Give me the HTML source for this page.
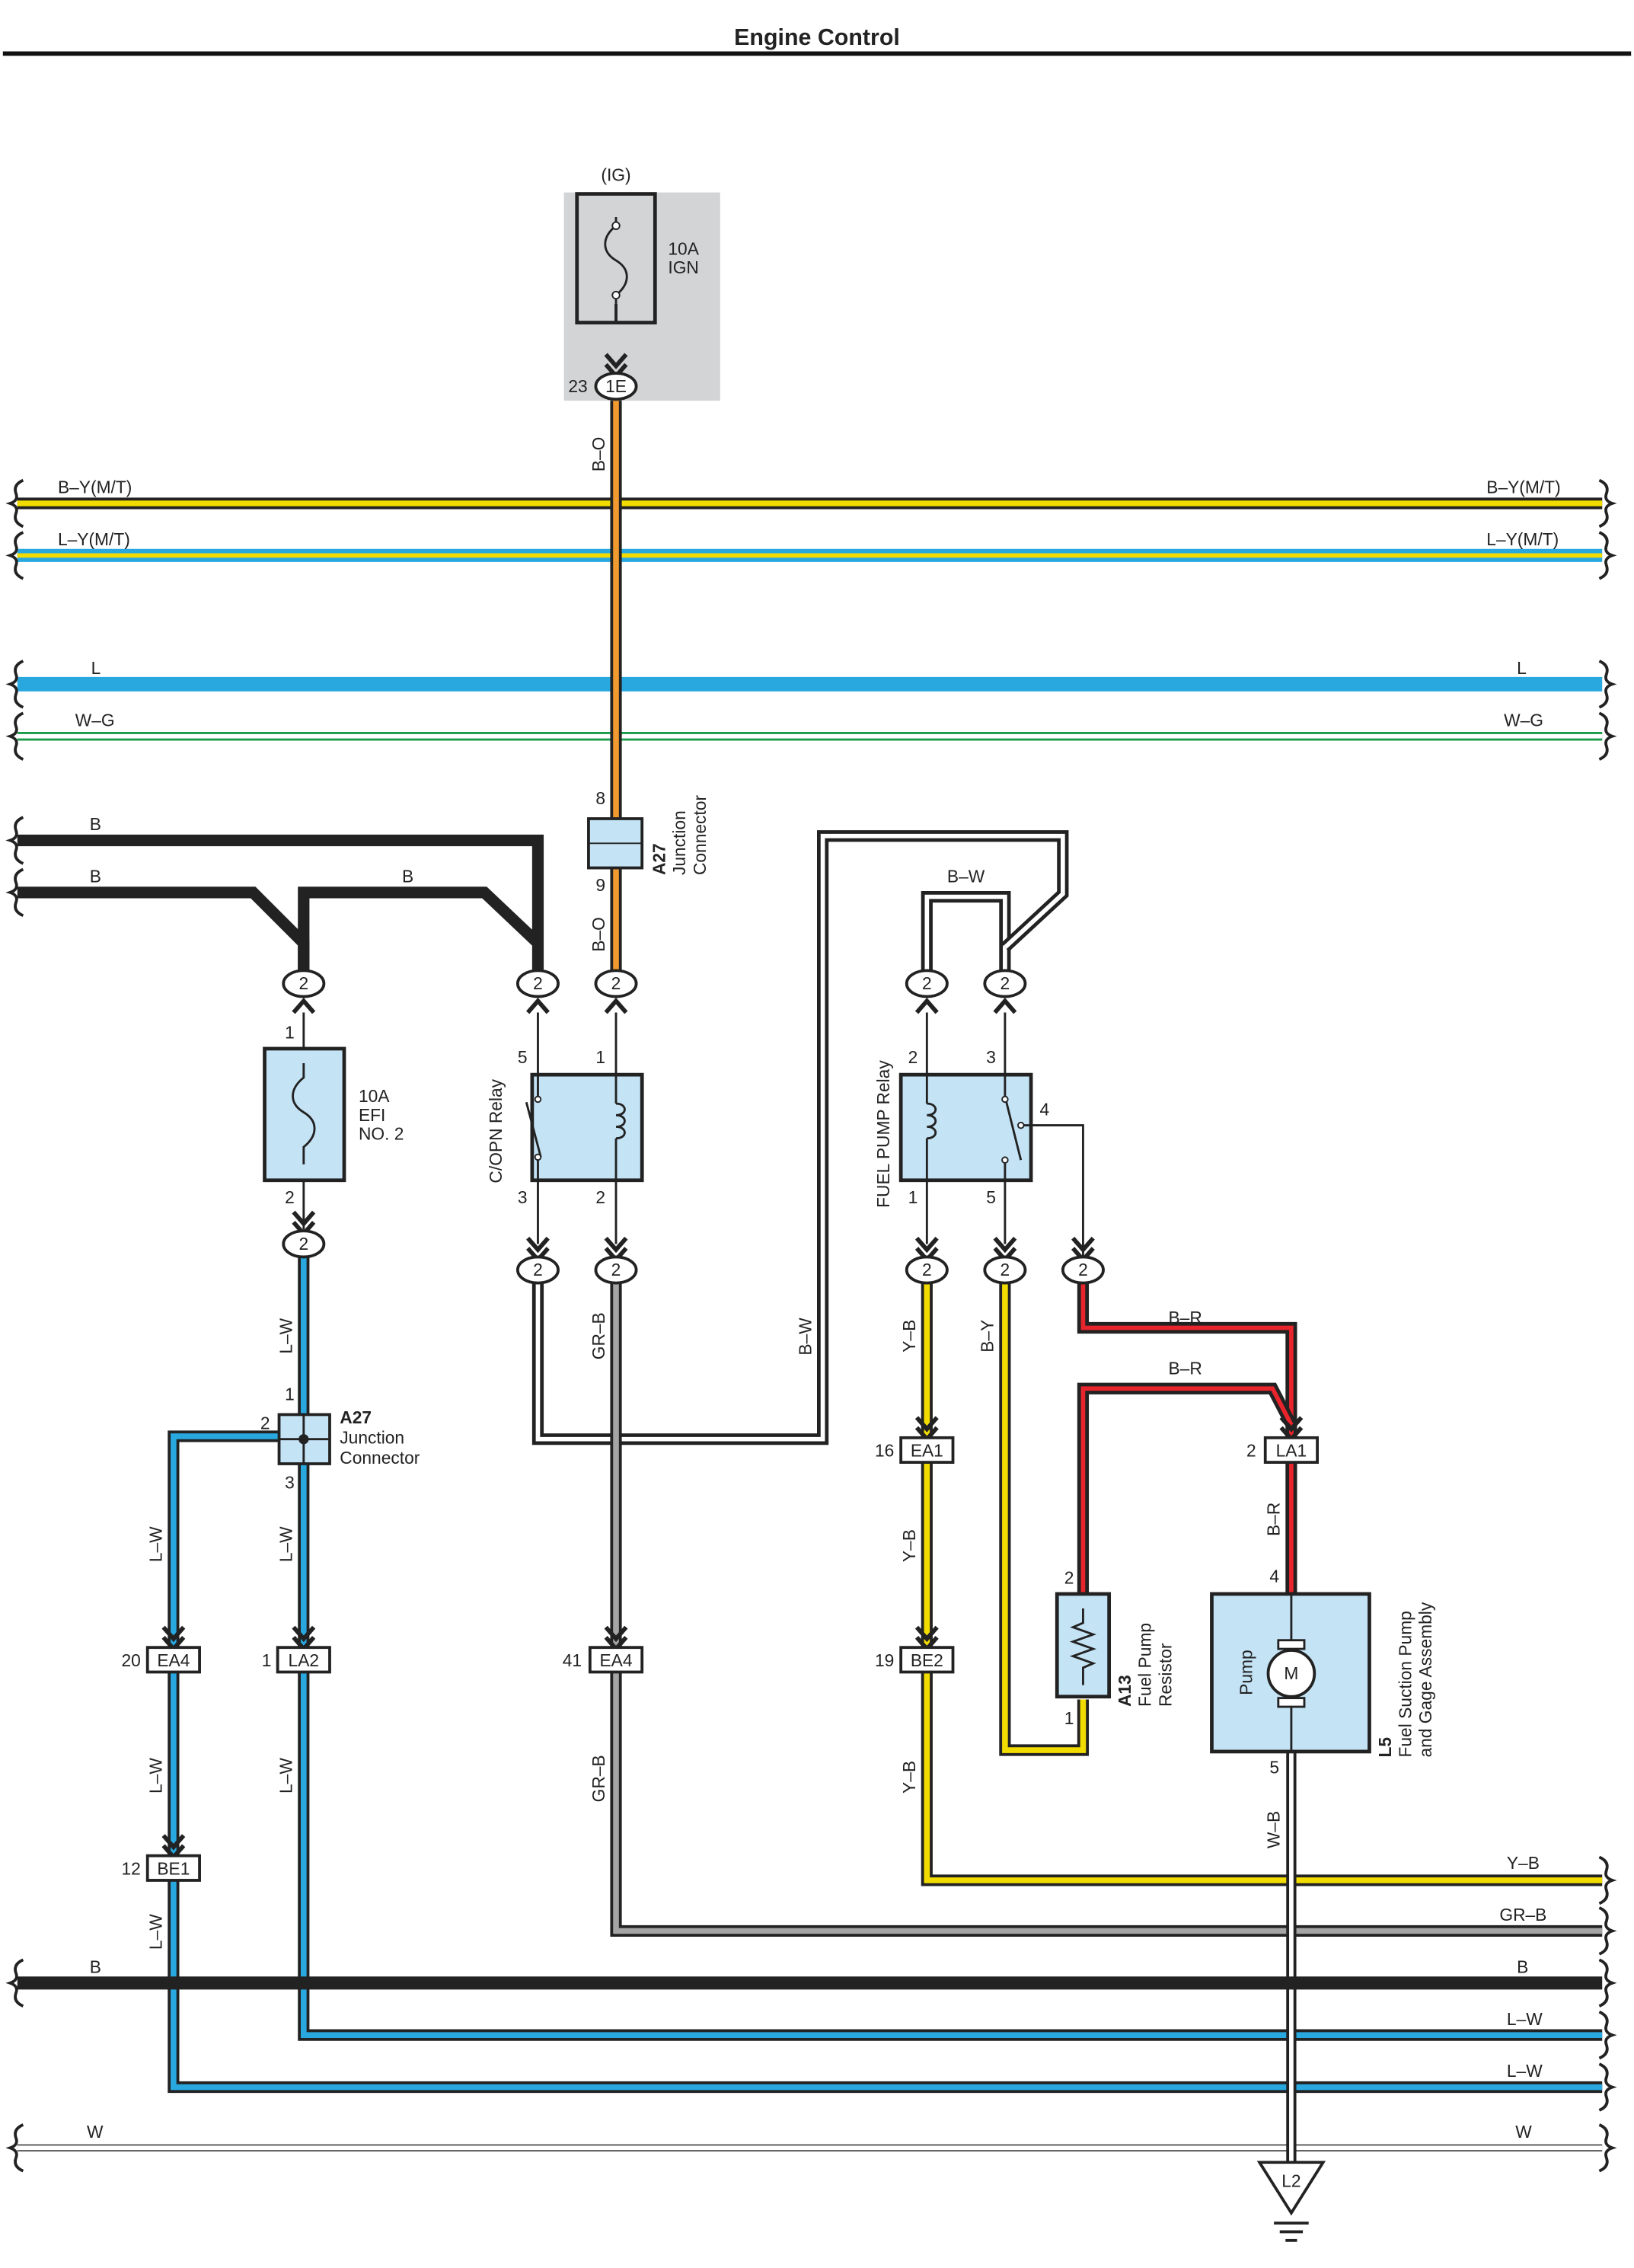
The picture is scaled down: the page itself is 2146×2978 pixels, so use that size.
<!DOCTYPE html>
<html><head><meta charset="utf-8"><style>
html,body{margin:0;padding:0;background:#fff}
svg{display:block}
text{font-family:"Liberation Sans",Arial,sans-serif;font-size:12px;fill:#222}
</style></head><body>
<svg width="2146" height="2978" viewBox="0 0 1130 1568" xmlns="http://www.w3.org/2000/svg">
<defs>
<g id="bl"><path d="M0,-16 q-7,3 -5,9 q2,5 -4,7 q6,2 4,7 q-2,6 5,9" fill="none" stroke="#222" stroke-width="2"/></g>
<g id="br"><path d="M0,-16 q7,3 5,9 q-2,5 4,7 q-6,2 -4,7 q2,6 -5,9" fill="none" stroke="#222" stroke-width="2"/></g>
<g id="dn"><polyline points="-7,-22 0,-14 7,-22" fill="none" stroke="#222" stroke-width="3"/><polyline points="-7,-15 0,-7 7,-15" fill="none" stroke="#222" stroke-width="3"/></g>
<g id="up"><polyline points="-7,20 0,12 7,20" fill="none" stroke="#222" stroke-width="3"/></g>
</defs>
<text x="565" y="31" text-anchor="middle" style="font-size:16px;font-weight:bold">Engine Control</text>
<line x1="2" y1="37" x2="1128" y2="37" stroke="#111" stroke-width="3"/>

<rect x="390" y="133" width="108" height="144" fill="#d3d4d6"/>
<rect x="399" y="134" width="54" height="89" fill="none" stroke="#222" stroke-width="2.5"/>
<path d="M426,150 v6 c-10,8 -10,18 0,24 c10,6 10,16 0,24 v6" fill="none" stroke="#222" stroke-width="1.5"/>
<circle cx="426" cy="156" r="2.5" fill="#fff" stroke="#222"/><circle cx="426" cy="204" r="2.5" fill="#fff" stroke="#222"/>
<line x1="426" y1="210" x2="426" y2="223" stroke="#222" stroke-width="2"/>
<text x="426" y="125" text-anchor="middle">(IG)</text>
<text x="462" y="176">10A</text><text x="462" y="189">IGN</text>
<text x="393" y="271">23</text>

<g fill="none">
<line x1="12" y1="348" x2="1108" y2="348" stroke="#222" stroke-width="8"/><line x1="12" y1="348" x2="1108" y2="348" stroke="#f2dc00" stroke-width="4"/>
<line x1="12" y1="384" x2="1108" y2="384" stroke="#29a8e0" stroke-width="9"/><line x1="12" y1="384" x2="1108" y2="384" stroke="#f2dc00" stroke-width="3"/>
<line x1="12" y1="473" x2="1108" y2="473" stroke="#29a8e0" stroke-width="10"/>
<line x1="12" y1="509" x2="1108" y2="509" stroke="#1a9a4a" stroke-width="6"/><line x1="12" y1="509" x2="1108" y2="509" stroke="#fff" stroke-width="3"/>
<line x1="12" y1="1485" x2="1108" y2="1485" stroke="#555" stroke-width="5"/><line x1="12" y1="1485" x2="1108" y2="1485" stroke="#fff" stroke-width="3"/>
</g>
<g>
<use href="#bl" x="16" y="348"/><use href="#br" x="1106" y="348"/>
<use href="#bl" x="16" y="384"/><use href="#br" x="1106" y="384"/>
<use href="#bl" x="16" y="473"/><use href="#br" x="1106" y="473"/>
<use href="#bl" x="16" y="509"/><use href="#br" x="1106" y="509"/>
<use href="#bl" x="16" y="581"/><use href="#bl" x="16" y="617"/>
<use href="#br" x="1106" y="1300"/><use href="#br" x="1106" y="1335"/><use href="#br" x="1106" y="1371"/>
<use href="#br" x="1106" y="1407"/><use href="#br" x="1106" y="1443"/>
<use href="#bl" x="16" y="1371"/><use href="#bl" x="16" y="1485"/><use href="#br" x="1106" y="1485"/>
</g>
<text x="40" y="341">B–Y(M/T)</text><text x="1028" y="341">B–Y(M/T)</text>
<text x="40" y="377">L–Y(M/T)</text><text x="1028" y="377">L–Y(M/T)</text>
<text x="63" y="466">L</text><text x="1049" y="466">L</text>
<text x="52" y="502">W–G</text><text x="1040" y="502">W–G</text>
<text x="62" y="574">B</text><text x="62" y="610">B</text><text x="278" y="610">B</text>

<line x1="426" y1="277" x2="426" y2="680" stroke="#222" stroke-width="8"/>
<line x1="426" y1="277" x2="426" y2="680" stroke="#f09a30" stroke-width="4"/>

<g fill="none" stroke="#222" stroke-width="8" stroke-linejoin="miter">
<polyline points="12,581 372,581 372,672"/>
<polyline points="12,617 175,617 210,652 210,672"/>
<polyline points="210,672 210,617 335,617 372,652"/>
</g>

<g fill="none" stroke-linejoin="miter">
<polyline points="641,672 641,620 695,620 695,672" stroke="#222" stroke-width="8"/>
<polyline points="641,672 641,620 695,620 695,672" stroke="#fff" stroke-width="3"/>
<polyline points="695,655 735,618 735,578 569,578 569,995 372,995 372,878" stroke="#222" stroke-width="8"/>
<polyline points="695,655 735,618 735,578 569,578 569,995 372,995 372,878" stroke="#fff" stroke-width="3"/>
</g>
<polyline points="426,878 426,1335 1108,1335" fill="none" stroke="#222" stroke-width="8"/>
<polyline points="426,878 426,1335 1108,1335" fill="none" stroke="#a5a5a5" stroke-width="4"/>
<g fill="none">
<polyline points="210,860 210,1407 1108,1407" stroke="#222" stroke-width="8"/>
<polyline points="210,860 210,1407 1108,1407" stroke="#29a8e0" stroke-width="4"/>
<polyline points="193,993 120,993 120,1443 1108,1443" stroke="#222" stroke-width="8"/>
<polyline points="193,993 120,993 120,1443 1108,1443" stroke="#29a8e0" stroke-width="4"/>
<polyline points="641,878 641,1300 1108,1300" stroke="#222" stroke-width="8"/>
<polyline points="641,878 641,1300 1108,1300" stroke="#f2dc00" stroke-width="4"/>
<polyline points="695,878 695,1210 749,1210 749,1175" stroke="#222" stroke-width="8"/>
<polyline points="695,878 695,1210 749,1210 749,1175" stroke="#f2dc00" stroke-width="4"/>
<polyline points="749,878 749,918 893,918 893,1102" stroke="#222" stroke-width="8"/>
<polyline points="749,878 749,918 893,918 893,1102" stroke="#e8242c" stroke-width="3"/>
<polyline points="749,1102 749,960 880,960 893,985" stroke="#222" stroke-width="8"/>
<polyline points="749,1102 749,960 880,960 893,985" stroke="#e8242c" stroke-width="3"/>
<line x1="893" y1="1211" x2="893" y2="1495" stroke="#222" stroke-width="7"/>
<line x1="893" y1="1211" x2="893" y2="1495" stroke="#fff" stroke-width="3"/>
<polyline points="713,778 749,778 749,870" stroke="#222" stroke-width="1.5"/>
</g>
<line x1="12" y1="1371" x2="1108" y2="1371" stroke="#222" stroke-width="9"/>

<rect x="407" y="566" width="37" height="34" fill="#c4e3f5" stroke="#222" stroke-width="2"/>
<line x1="407" y1="583" x2="444" y2="583" stroke="#222" stroke-width="1"/>
<text x="412" y="556">8</text><text x="412" y="616">9</text>
<text transform="translate(460,605) rotate(-90)" style="font-weight:bold">A27</text>
<text transform="translate(474,605) rotate(-90)">Junction</text>
<text transform="translate(488,605) rotate(-90)">Connector</text>

<rect x="183" y="725" width="55" height="91" fill="#c4e3f5" stroke="#222" stroke-width="2.5"/>
<line x1="210" y1="700" x2="210" y2="725" stroke="#222" stroke-width="1.5"/><line x1="210" y1="816" x2="210" y2="850" stroke="#222" stroke-width="1.5"/>
<path d="M210,735 v10 c-10,8 -10,18 0,24 c10,6 10,16 0,24 v12" fill="none" stroke="#222" stroke-width="1.5"/>
<text x="248" y="762">10A</text><text x="248" y="775">EFI</text><text x="248" y="788">NO. 2</text>
<text x="197" y="718">1</text><text x="197" y="832">2</text>

<g stroke="#222" stroke-width="1.5" fill="none">
<line x1="372" y1="700" x2="372" y2="743"/><line x1="426" y1="700" x2="426" y2="743"/>
<line x1="372" y1="816" x2="372" y2="860"/><line x1="426" y1="816" x2="426" y2="860"/>
<line x1="641" y1="700" x2="641" y2="743"/><line x1="695" y1="700" x2="695" y2="743"/>
<line x1="641" y1="816" x2="641" y2="860"/><line x1="695" y1="816" x2="695" y2="860"/>
</g>
<rect x="368" y="743" width="76" height="73" fill="#c4e3f5" stroke="#222" stroke-width="2.5"/>
<g stroke="#222" stroke-width="1.5" fill="none">
<line x1="372" y1="743" x2="372" y2="760"/><line x1="364" y1="762" x2="374" y2="800"/><line x1="372" y1="800" x2="372" y2="816"/>
<line x1="426" y1="743" x2="426" y2="763"/><path d="M426,763 c8,0 8,8 0,8 c8,0 8,8 0,8 c8,0 8,8 0,8"/><line x1="426" y1="787" x2="426" y2="816"/>
</g>
<circle cx="372" cy="760" r="2" fill="#fff" stroke="#222"/><circle cx="372" cy="800" r="2" fill="#fff" stroke="#222"/>
<text x="358" y="735">5</text><text x="412" y="735">1</text><text x="358" y="832">3</text><text x="412" y="832">2</text>
<text transform="translate(347,818) rotate(-90)">C/OPN Relay</text>

<rect x="623" y="743" width="90" height="73" fill="#c4e3f5" stroke="#222" stroke-width="2.5"/>
<g stroke="#222" stroke-width="1.5" fill="none">
<line x1="641" y1="743" x2="641" y2="763"/><path d="M641,763 c8,0 8,8 0,8 c8,0 8,8 0,8 c8,0 8,8 0,8"/><line x1="641" y1="787" x2="641" y2="816"/>
<line x1="695" y1="743" x2="695" y2="760"/><line x1="696" y1="762" x2="706" y2="802"/><line x1="695" y1="800" x2="695" y2="816"/>
<line x1="705" y1="778" x2="713" y2="778"/>
</g>
<circle cx="695" cy="760" r="2" fill="#fff" stroke="#222"/><circle cx="695" cy="802" r="2" fill="#fff" stroke="#222"/><circle cx="706" cy="778" r="2" fill="#fff" stroke="#222"/>
<text x="628" y="735">2</text><text x="682" y="735">3</text><text x="719" y="771">4</text><text x="628" y="832">1</text><text x="682" y="832">5</text>
<text transform="translate(615,835) rotate(-90)">FUEL PUMP Relay</text>

<use href="#dn" x="426" y="267"/>
<use href="#up" x="210" y="680"/><use href="#up" x="372" y="680"/><use href="#up" x="426" y="680"/><use href="#up" x="641" y="680"/><use href="#up" x="695" y="680"/>
<use href="#dn" x="210" y="860"/>
<use href="#dn" x="372" y="878"/><use href="#dn" x="426" y="878"/><use href="#dn" x="641" y="878"/><use href="#dn" x="695" y="878"/><use href="#dn" x="749" y="878"/>
<use href="#dn" x="641" y="1002"/><use href="#dn" x="893" y="1002"/>
<use href="#dn" x="120" y="1147"/><use href="#dn" x="210" y="1147"/><use href="#dn" x="426" y="1147"/><use href="#dn" x="641" y="1147"/>
<use href="#dn" x="120" y="1291"/>

<g fill="#fff" stroke="#222" stroke-width="2">
<ellipse cx="426" cy="267" rx="14" ry="9"/>
<ellipse cx="210" cy="680" rx="14" ry="9"/><ellipse cx="372" cy="680" rx="14" ry="9"/><ellipse cx="426" cy="680" rx="14" ry="9"/><ellipse cx="641" cy="680" rx="14" ry="9"/><ellipse cx="695" cy="680" rx="14" ry="9"/>
<ellipse cx="210" cy="860" rx="14" ry="9"/>
<ellipse cx="372" cy="878" rx="14" ry="9"/><ellipse cx="426" cy="878" rx="14" ry="9"/><ellipse cx="641" cy="878" rx="14" ry="9"/><ellipse cx="695" cy="878" rx="14" ry="9"/><ellipse cx="749" cy="878" rx="14" ry="9"/>
</g>
<g text-anchor="middle">
<text x="426" y="271">1E</text>
<text x="210" y="684">2</text><text x="372" y="684">2</text><text x="426" y="684">2</text><text x="641" y="684">2</text><text x="695" y="684">2</text>
<text x="210" y="864">2</text>
<text x="372" y="882">2</text><text x="426" y="882">2</text><text x="641" y="882">2</text><text x="695" y="882">2</text><text x="749" y="882">2</text>
</g>

<rect x="193" y="978" width="35" height="34" fill="#c4e3f5" stroke="#222" stroke-width="2"/>
<line x1="193" y1="995" x2="228" y2="995" stroke="#222" stroke-width="1.5"/><line x1="210" y1="978" x2="210" y2="1012" stroke="#222" stroke-width="1.5"/>
<circle cx="210" cy="995" r="3.5" fill="#222"/>
<text x="197" y="968">1</text><text x="180" y="988">2</text><text x="197" y="1029">3</text>
<text x="235" y="984" style="font-weight:bold">A27</text><text x="235" y="998">Junction</text><text x="235" y="1012">Connector</text>

<g fill="#fff" stroke="#222" stroke-width="2">
<rect x="623" y="994" width="36" height="17"/><rect x="875" y="994" width="36" height="17"/>
<rect x="102" y="1139" width="36" height="17"/><rect x="192" y="1139" width="36" height="17"/><rect x="408" y="1139" width="36" height="17"/><rect x="623" y="1139" width="36" height="17"/>
<rect x="102" y="1283" width="36" height="17"/>
</g>
<g text-anchor="middle">
<text x="641" y="1007">EA1</text><text x="893" y="1007">LA1</text>
<text x="120" y="1152">EA4</text><text x="210" y="1152">LA2</text><text x="426" y="1152">EA4</text><text x="641" y="1152">BE2</text>
<text x="120" y="1296">BE1</text>
</g>
<text x="605" y="1007">16</text><text x="862" y="1007">2</text>
<text x="84" y="1152">20</text><text x="181" y="1152">1</text><text x="389" y="1152">41</text><text x="605" y="1152">19</text>
<text x="84" y="1296">12</text>

<rect x="731" y="1102" width="36" height="71" fill="#c4e3f5" stroke="#222" stroke-width="2.5"/>
<polyline points="749,1112 749,1122 742,1125 756,1130 742,1135 756,1140 742,1145 756,1150 749,1153 749,1165" fill="none" stroke="#222" stroke-width="1.5"/>
<text x="736" y="1095">2</text><text x="736" y="1192">1</text>
<text transform="translate(782,1180) rotate(-90)" style="font-weight:bold">A13</text>
<text transform="translate(796,1180) rotate(-90)">Fuel Pump</text>
<text transform="translate(810,1180) rotate(-90)">Resistor</text>

<rect x="838" y="1102" width="109" height="109" fill="#c4e3f5" stroke="#222" stroke-width="2.5"/>
<line x1="893" y1="1102" x2="893" y2="1138" stroke="#222" stroke-width="1.5"/><line x1="893" y1="1176" x2="893" y2="1211" stroke="#222" stroke-width="1.5"/>
<rect x="884" y="1134" width="18" height="6" fill="#fff" stroke="#222" stroke-width="1.5"/>
<rect x="884" y="1174" width="18" height="6" fill="#fff" stroke="#222" stroke-width="1.5"/>
<circle cx="893" cy="1157" r="16" fill="#fff" stroke="#222" stroke-width="2"/>
<text x="893" y="1161" text-anchor="middle">M</text>
<text transform="translate(866,1172) rotate(-90)">Pump</text>
<text x="878" y="1094">4</text><text x="878" y="1226">5</text>
<text transform="translate(962,1215) rotate(-90)" style="font-weight:bold">L5</text>
<text transform="translate(976,1215) rotate(-90)">Fuel Suction Pump</text>
<text transform="translate(990,1215) rotate(-90)">and Gage Assembly</text>

<polygon points="871,1495 915,1495 893,1530" fill="#fff" stroke="#222" stroke-width="2"/>
<text x="893" y="1512" text-anchor="middle">L2</text>
<line x1="881" y1="1537" x2="905" y2="1537" stroke="#222" stroke-width="2"/>
<line x1="885" y1="1543" x2="901" y2="1543" stroke="#222" stroke-width="2"/>
<line x1="889" y1="1549" x2="897" y2="1549" stroke="#222" stroke-width="2"/>

<g>
<text transform="translate(418,326) rotate(-90)">B–O</text>
<text transform="translate(418,658) rotate(-90)">B–O</text>
<text transform="translate(202,936) rotate(-90)">L–W</text>
<text transform="translate(418,940) rotate(-90)">GR–B</text>
<text transform="translate(561,937) rotate(-90)">B–W</text>
<text transform="translate(633,935) rotate(-90)">Y–B</text>
<text transform="translate(687,935) rotate(-90)">B–Y</text>
<text transform="translate(112,1080) rotate(-90)">L–W</text>
<text transform="translate(202,1080) rotate(-90)">L–W</text>
<text transform="translate(633,1080) rotate(-90)">Y–B</text>
<text transform="translate(885,1062) rotate(-90)">B–R</text>
<text transform="translate(112,1240) rotate(-90)">L–W</text>
<text transform="translate(202,1240) rotate(-90)">L–W</text>
<text transform="translate(418,1246) rotate(-90)">GR–B</text>
<text transform="translate(633,1240) rotate(-90)">Y–B</text>
<text transform="translate(885,1278) rotate(-90)">W–B</text>
<text transform="translate(112,1348) rotate(-90)">L–W</text>
</g>
<text x="655" y="610">B–W</text>
<text x="808" y="915">B–R</text><text x="808" y="950">B–R</text>
<text x="1042" y="1292">Y–B</text><text x="1037" y="1328">GR–B</text><text x="1049" y="1364">B</text>
<text x="1042" y="1400">L–W</text><text x="1042" y="1436">L–W</text>
<text x="62" y="1364">B</text><text x="60" y="1478">W</text><text x="1048" y="1478">W</text>
</svg>
</body></html>
